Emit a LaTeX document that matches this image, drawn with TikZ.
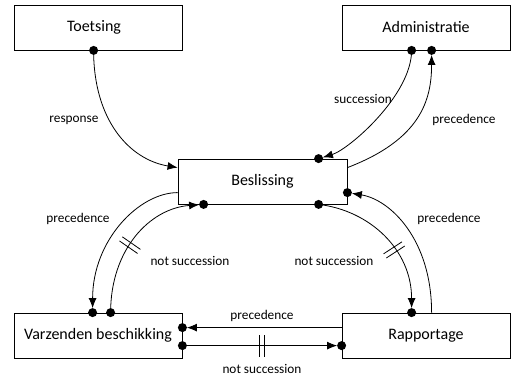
\documentclass[tikz,border=0pt]{standalone}
\usepackage{fontspec}
\setmainfont{Carlito}
\usetikzlibrary{arrows.meta,calc,decorations.markings}
\begin{document}
\begin{tikzpicture}[x=1pt,y=-1pt,
  box/.style={draw, line width=0.8pt, minimum width=168pt, minimum height=45pt, inner sep=0pt, font=\fontsize{16}{19}\selectfont},
  lbl/.style={font=\fontsize{13.3}{16}\selectfont, inner sep=0pt},
  conn/.style={line width=0.8pt},
  arr/.style={-{Latex[length=10pt,width=8pt]}},
  todot/.style={arr, shorten >=4.5pt},
  portdot/.style={fill=black},
  dbar/.style={postaction={decorate, decoration={markings,
     mark=at position #1 with {\draw[line width=0.8pt, -, shorten >=0pt, shorten <=0pt] (-2.5pt,-11pt) -- (-2.5pt,11pt) (2.5pt,-11pt) -- (2.5pt,11pt);}}}}
]
\useasboundingbox (0,0) rectangle (511,378);

% boxes
\node[box] (toet) at (98,27.5) {\hspace*{-8pt}Toetsing};
\node[box] (adm) at (426,27.5) {Administratie};
\node[box, minimum width=169pt] (bes) at (262.5,181.5) {Beslissing};
\node[box] (var) at (98,335.5) {Varzenden beschikking};
\node[box] (rap) at (426,335.5) {Rapportage};

% ports
\coordinate (t1) at ($(toet.south west)+(80,0)$);
\coordinate (a1) at ($(adm.south west)+(70,0)$);
\coordinate (a2) at ($(adm.south west)+(90,0)$);
\coordinate (bl1) at ($(bes.north west)+(0,9)$);
\coordinate (bt) at ($(bes.north west)+(141,0)$);
\coordinate (br1) at ($(bes.north east)+(0,9)$);
\coordinate (br2) at ($(bes.north east)+(0,34)$);
\coordinate (bb1) at ($(bes.south west)+(26,0)$);
\coordinate (bb2) at ($(bes.south west)+(141,0)$);
\coordinate (bl2) at ($(bes.north west)+(0,34)$);
\coordinate (v1) at ($(var.north west)+(79,0)$);
\coordinate (v2) at ($(var.north west)+(97,0)$);
\coordinate (v3) at ($(var.north east)+(0,15)$);
\coordinate (v4) at ($(var.north east)+(0,33)$);
\coordinate (r1) at ($(rap.north west)+(70,0)$);
\coordinate (r2) at ($(rap.north west)+(90,0)$);
\coordinate (r3) at ($(rap.north west)+(0,15)$);
\coordinate (r4) at ($(rap.north west)+(0,33)$);

% connectors
\draw[conn, arr] (t1) .. controls +(0,70) and +(-48,-8) .. (bl1);
\draw[conn, todot] (a1) .. controls +(0,45) and +(30,-9) .. (bt);
\draw[conn, todot] (br1) .. controls +(73,-28) and +(0,50) .. (a2);
\draw[conn, todot] (r2) .. controls +(0,-73) and +(43,7) .. (br2);
\draw[conn, todot, dbar=0.58] (bb2) .. controls +(51,6) and +(0,-63) .. (r1);
\draw[conn, todot] (bl2) .. controls +(-38,0) and +(0,-73) .. (v1);
\draw[conn, todot, dbar=0.45] (v2) .. controls +(0,-63) and +(-54,4) .. (bb1);
\draw[conn, todot] (r3) -- (v3);
\draw[conn, todot, dbar=0.5] (v4) -- (r4);

% dots
\foreach \p in {t1,a1,a2,bt,br2,bb1,bb2,v1,v2,v3,v4,r1,r4}
  \fill[portdot] (\p) circle (4.5);

% labels
\node[lbl] (l1) at (74,120) {response};
\node[lbl] (l2) at (363,99) {succession};
\node[lbl] (l3) at (464,120) {precedence};
\node[lbl] (l4) at (449,219) {precedence};
\node[lbl] (l5) at (334,261) {not succession};
\node[lbl] (l6) at (78,219) {precedence};
\node[lbl] (l7) at (190,261) {not succession};
\node[lbl] (l8) at (262,316) {precedence};
\node[lbl] (l9) at (262,369) {not succession};
\end{tikzpicture}
\end{document}
